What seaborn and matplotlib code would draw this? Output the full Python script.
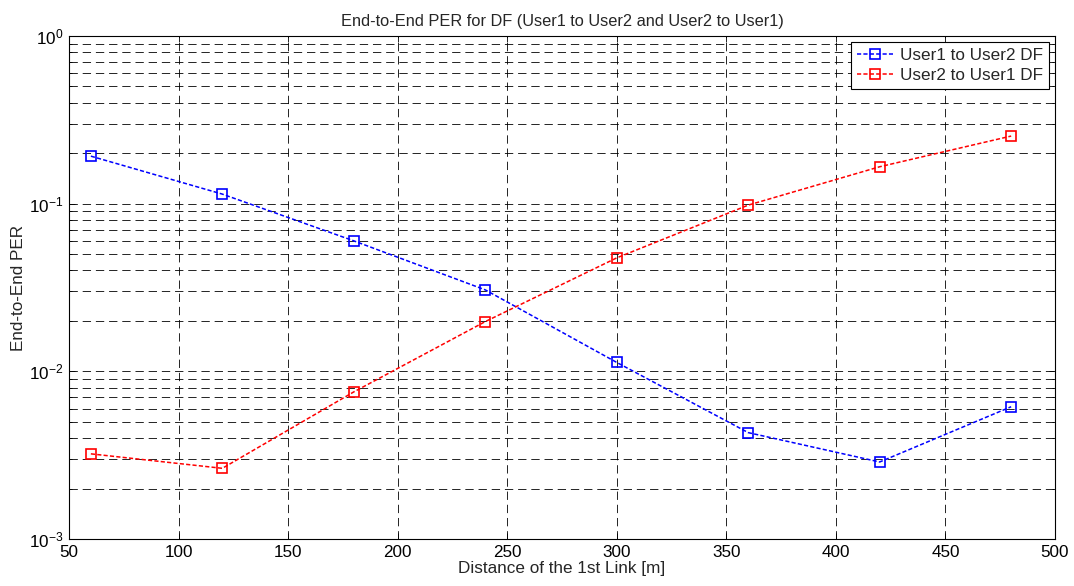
import matplotlib
matplotlib.use("Agg")
import matplotlib.pyplot as plt
import seaborn as sns
import pandas as pd
import numpy as np
from matplotlib.ticker import LogLocator, NullFormatter, FixedLocator

distance = [60, 120, 180, 240, 300, 360, 420, 480]
user1_to_user2 = [0.192, 0.114, 0.060, 0.0306, 0.0113, 0.00431, 0.00288, 0.00615]
user2_to_user1 = [0.00322, 0.00264, 0.00754, 0.0198, 0.0475, 0.098, 0.166, 0.253]
series_names = ["User1 to User2 DF", "User2 to User1 DF"]
series_colors = ["#0000ff", "#ff0000"]
x_ticks = [50, 100, 150, 200, 250, 300, 350, 400, 450, 500]

sns.set_theme(style="white")
plt.rcParams['font.family'] = ['Liberation Sans', 'DejaVu Sans']
plt.rcParams['lines.scale_dashes'] = False
plt.rcParams['mathtext.fontset'] = 'custom'
plt.rcParams['mathtext.rm'] = 'Liberation Sans'
plt.rcParams['mathtext.it'] = 'Liberation Sans'

FS = 12.3

df = pd.DataFrame({
    "Distance": distance * 2,
    "PER": user1_to_user2 + user2_to_user1,
    "Series": [series_names[0]] * len(distance) + [series_names[1]] * len(distance),
})

fig = plt.figure(figsize=(10.74, 5.86), dpi=100)
ax = fig.add_axes([0.0642, 0.0802, 0.9181, 0.8584])

for name, col in zip(series_names, series_colors):
    sub = df[df["Series"] == name]
    sns.lineplot(data=sub, x="Distance", y="PER", ax=ax, color=col,
                 marker="s", markersize=7, markerfacecolor="none",
                 markeredgecolor=col, markeredgewidth=1.2,
                 linewidth=1.1, dashes=False, label=name)
for line in ax.get_lines():
    line.set_linestyle((0, (3.0, 1.6)))

ax.set_yscale("log")
ax.set_xlim(50, 500)
ax.set_ylim(1e-3, 1e0)
ax.xaxis.set_major_locator(FixedLocator(x_ticks))
ax.yaxis.set_major_locator(LogLocator(base=10, numticks=10))
ax.yaxis.set_minor_locator(LogLocator(base=10, subs=np.arange(2, 10), numticks=20))
ax.yaxis.set_minor_formatter(NullFormatter())

ax.grid(True, which="major", axis="both", color="black", linestyle=(0, (6, 3.5)), linewidth=0.6)
ax.grid(True, which="minor", axis="y", color="black", linestyle=(0, (6, 3.5)), linewidth=0.6)

ax.tick_params(axis="both", which="both", direction="in", top=True, right=True,
               bottom=True, left=True, labelsize=FS, colors="black", pad=4)
ax.tick_params(axis="both", which="major", length=4, width=0.6)
ax.tick_params(axis="y", which="minor", length=2.5, width=0.6)
for s in ax.spines.values():
    s.set_color("black")
    s.set_linewidth(0.8)

ax.set_xlabel("Distance of the 1st Link [m]", fontsize=FS, labelpad=1)
ax.set_ylabel("End-to-End PER", fontsize=FS, labelpad=2)
ax.set_title("End-to-End PER for DF (User1 to User2 and User2 to User1)", fontsize=11.8, pad=7)

leg = ax.legend(loc="upper right", fontsize=FS, frameon=True, fancybox=False,
                edgecolor="black", framealpha=1, borderaxespad=0.35, handlelength=2.1,
                handletextpad=0.4, borderpad=0.35, labelspacing=0.3)
leg.get_frame().set_linewidth(0.8)

fig.savefig("out.png", dpi=100)
